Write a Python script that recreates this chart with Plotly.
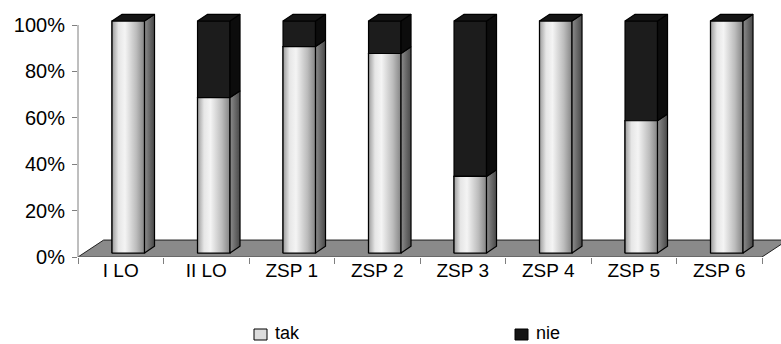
import plotly.graph_objects as go

# ---- data -------------------------------------------------------------
schools = ["I LO", "II LO", "ZSP 1", "ZSP 2", "ZSP 3", "ZSP 4", "ZSP 5", "ZSP 6"]
tak = [100, 67, 89, 86, 33, 100, 57, 100]      # % answering "tak"
nie = [100 - v for v in tak]                    # % answering "nie"
y_ticks = [0, 20, 40, 60, 80, 100]
series_names = ["tak", "nie"]

# ---- pseudo-3D projection settings ------------------------------------
W, H = 781, 344
PX_X = 85.5          # pixels per category
PX_Y = 2.32          # pixels per percent
AX_L, AX_B = 78, 257  # axis origin in pixels

FLOOR_DX, FLOOR_DY = 0.30, 7.3   # depth of the grey floor (axis units)
BASE = 1.72                      # bars stand slightly behind the floor front edge
FRONT_OFF, FRONT_W = -0.102, 0.38
DEPTH_DX, DEPTH_DY = 0.117, 2.9  # depth of each bar

FONT = "Liberation Sans, Arial, sans-serif"
EDGE = dict(color="black", width=1.2)
AXIS_GREY = "#7f7f7f"

fig = go.Figure()
idx = list(range(len(schools)))

# front faces as bars
fig.add_trace(go.Bar(
    x=idx, y=tak, base=[BASE] * len(idx), offset=FRONT_OFF, width=FRONT_W,
    name="tak", marker=dict(color="#dedede", line=EDGE),
    showlegend=False, hoverinfo="skip"))
fig.add_trace(go.Bar(
    x=idx, y=nie, base=[BASE + t for t in tak], offset=FRONT_OFF, width=FRONT_W,
    name="nie", marker=dict(color="#1c1c1c", line=EDGE),
    showlegend=False, hoverinfo="skip"))


def poly(xs, ys, **kw):
    fig.add_trace(go.Scatter(
        x=xs + [xs[0]], y=ys + [ys[0]], mode="lines", fill="toself",
        line=EDGE, showlegend=False, hoverinfo="skip", **kw))


front_scale = [[0, "#9c9c9c"], [0.2, "#e6e6e6"], [0.4, "#f4f4f4"],
               [0.75, "#bcbcbc"], [1, "#848484"]]
side_scale = [[0, "#8c8c8c"], [1, "#484848"]]

for i, t, n in zip(idx, tak, nie):
    L = i + FRONT_OFF
    R = L + FRONT_W
    top = BASE + t
    full = BASE + 100
    if t > 0:
        # shaded front of the "tak" segment
        poly([L, R, R, L], [BASE, BASE, top, top],
             fillgradient=dict(type="horizontal", colorscale=front_scale))
        # side of the "tak" segment
        poly([R, R + DEPTH_DX, R + DEPTH_DX, R],
             [BASE, BASE + DEPTH_DY, top + DEPTH_DY, top],
             fillgradient=dict(type="horizontal", colorscale=side_scale))
    if n > 0:
        # side of the "nie" segment
        poly([R, R + DEPTH_DX, R + DEPTH_DX, R],
             [top, top + DEPTH_DY, full + DEPTH_DY, full],
             fillcolor="#0c0c0c")
    # top lid
    poly([L, R, R + DEPTH_DX, L + DEPTH_DX],
         [full, full, full + DEPTH_DY, full + DEPTH_DY],
         fillcolor="#151515")

# grey floor under the bars
n_cat = len(schools)
x0, x1 = -0.5, n_cat - 0.5
fig.add_shape(
    type="path", xref="x", yref="y", layer="below",
    path=(f"M {x0},0 L {x1},0 L {x1 + FLOOR_DX},{FLOOR_DY} "
          f"L {x0 + FLOOR_DX},{FLOOR_DY} Z"),
    fillcolor="#8a8a8a", line=dict(color="#202020", width=1))

# axis lines (only as long as the 0-100 % frame)
fig.add_shape(type="line", xref="x", yref="y", x0=x0, x1=x1, y0=0, y1=0,
              line=dict(color=AXIS_GREY, width=1))
fig.add_shape(type="line", xref="paper", yref="y", x0=AX_L / W, x1=AX_L / W,
              y0=0, y1=y_ticks[-1], line=dict(color=AXIS_GREY, width=1))

# legend drawn as swatches + labels
legend_x = [254, 515]          # left edge of each swatch, px
legend_fill = ["#dcdcdc", "#141414"]
for name, lx, fc in zip(series_names, legend_x, legend_fill):
    fig.add_shape(type="rect", xref="paper", yref="paper",
                  x0=lx / W, x1=(lx + 13) / W,
                  y0=(H - 340) / H, y1=(H - 329) / H,
                  fillcolor=fc, line=dict(color="black", width=1))
    fig.add_annotation(text=name, xref="paper", yref="paper",
                       x=(lx + 20) / W, y=0, borderpad=0,
                       xanchor="left", yanchor="bottom", showarrow=False,
                       font=dict(family=FONT, size=18, color="black"))

# ---- axes ---------------------------------------------------------------
fig.update_layout(
    width=W, height=H, autosize=False,
    margin=dict(l=0, r=0, t=0, b=0, pad=0, autoexpand=False),
    paper_bgcolor="white", plot_bgcolor="rgba(0,0,0,0)",
    barmode="overlay", showlegend=False,
    font=dict(family=FONT, size=18, color="black"),
    xaxis=dict(
        domain=[AX_L / W, 1], range=[-0.5, -0.5 + (W - AX_L) / PX_X],
        tickmode="array", tickvals=idx, ticktext=schools, ticks="",
        minor=dict(tickmode="array", tickvals=[k - 0.5 for k in range(n_cat + 1)],
                   ticks="outside", ticklen=6, tickcolor=AXIS_GREY),
        showline=False, showgrid=False, zeroline=False, automargin=False,
        tickfont=dict(family=FONT, size=19, color="black"),
    ),
    yaxis=dict(
        domain=[(H - AX_B) / H, 1], range=[0, AX_B / PX_Y],
        tickmode="array", tickvals=y_ticks, ticktext=[f"{v}%" for v in y_ticks],
        ticks="outside", ticklen=5, tickcolor=AXIS_GREY, ticklabelstandoff=3,
        showline=False, showgrid=False, zeroline=False, automargin=False,
        tickfont=dict(family=FONT, size=20, color="black"),
    ),
)

fig.write_html("out.html")
